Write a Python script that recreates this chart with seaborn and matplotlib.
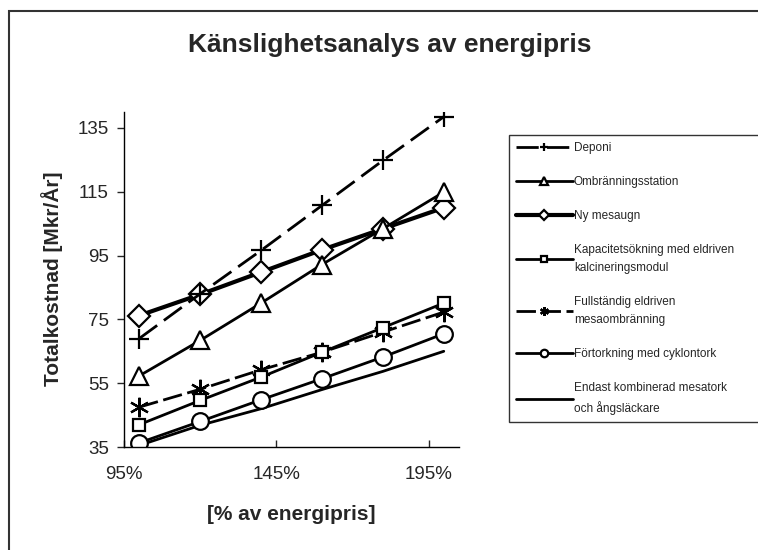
import numpy as np
import pandas as pd
import seaborn as sns
import matplotlib.pyplot as plt
from matplotlib.patches import Rectangle

# Data
energy_pct = [100, 120, 140, 160, 180, 200]
deponi = [69, 83, 96.6, 110.7, 124.8, 138.5]
ombranning = [57.3, 68.4, 80.1, 92.2, 103.4, 114.9]
ny_mesaugn = [76.2, 82.8, 89.8, 96.8, 103.4, 110]
kapacitet = [42, 49.6, 56.9, 64.7, 72.4, 80.1]
fullstandig = [47.5, 53.1, 59.2, 64.7, 71, 77.3]
fortorkning = [36.3, 43, 49.8, 56.4, 63.2, 70.5]
endast = [35.5, 41.8, 47, 53, 58.7, 65]

labels = ["Deponi", "Ombränningsstation", "Ny mesaugn",
          "Kapacitetsökning med eldriven\nkalcineringsmodul",
          "Fullständig eldriven\nmesaombränning",
          "Förtorkning med cyklontork",
          "Endast kombinerad mesatork\noch ångsläckare"]
xticks = [95, 145, 195]
yticks = [35, 55, 75, 95, 115, 135]

sns.set_style("white")
plt.rcParams['font.family'] = ['Liberation Sans', 'DejaVu Sans']

fig = plt.figure(figsize=(7.58, 5.5), dpi=100)
ax = fig.add_axes([124/758, (550-447)/550, (459-124)/758, (447-112)/550])

series = [endast, fortorkning, fullstandig, kapacitet, ny_mesaugn, ombranning, deponi]
names = [labels[6], labels[5], labels[4], labels[3], labels[2], labels[1], labels[0]]
styles = [
    dict(marker=None, lw=2),
    dict(marker="o", ms=12, lw=2),
    dict(marker=(6, 2, 0), ms=14, lw=2, dashes=(7, 2)),
    dict(marker="s", ms=9, lw=2),
    dict(marker="D", ms=11, lw=3),
    dict(marker="^", ms=13, lw=2),
    dict(marker="+", ms=14, lw=2, dashes=(8, 3)),
]

for vals, name, st in zip(series, names, styles):
    df = pd.DataFrame({"x": energy_pct, "y": vals})
    kw = dict(color="black", linewidth=st["lw"])
    if st["marker"] is not None:
        kw.update(marker=st["marker"], markersize=st["ms"], markerfacecolor="white",
                  markeredgecolor="black", markeredgewidth=1.6)
    if "dashes" in st:
        kw["dashes"] = st["dashes"]
    sns.lineplot(data=df, x="x", y="y", ax=ax, label=name, **kw)

ax.set_xlim(95, 205)
ax.set_ylim(35, 140)
ax.set_xticks(xticks)
ax.set_xticklabels([f"{t}%" for t in xticks])
ax.set_yticks(yticks)
ax.tick_params(axis="y", direction="out", length=5, width=1, labelsize=13.5, pad=6, left=True)
ax.tick_params(axis="x", direction="in", length=5, width=1, labelsize=13.5, pad=14, bottom=True)
for s in ["top", "right"]:
    ax.spines[s].set_visible(False)
for s in ["left", "bottom"]:
    ax.spines[s].set_color("black")
    ax.spines[s].set_linewidth(1)
ax.set_xlabel("")
ax.set_ylabel("")

fig.text(52/758, 1 - 279/550, "Totalkostnad [Mkr/År]", rotation=90,
         ha="center", va="center", fontsize=15, fontweight="bold")
fig.text(291/758, 1 - 515/550, "[% av energipris]", ha="center", va="center",
         fontsize=15, fontweight="bold")
fig.text(390/758, 1 - 45/550, "Känslighetsanalys av energipris", ha="center", va="center",
         fontsize=19, fontweight="bold")

h, l = ax.get_legend_handles_labels()
order = [l.index(n) for n in labels]
leg = ax.legend([h[i] for i in order], [l[i] for i in order],
                loc="upper left", bbox_to_anchor=(509/758, 1 - 423/550, 252/758, 288/550),
                bbox_transform=fig.transFigure, mode="expand", fontsize=8.5, frameon=True,
                fancybox=False, edgecolor="black", handlelength=4.8, handletextpad=0.1,
                labelspacing=1.85, markerscale=0.45, borderpad=0.6, borderaxespad=0)
leg.get_frame().set_linewidth(1)
for t in leg.get_texts():
    t.set_linespacing(1.7)

fig.add_artist(Rectangle((9/758, -0.1), 2, 1 - 11/550 + 0.1, fill=False,
                         lw=1.5, edgecolor="#333333", transform=fig.transFigure))

fig.savefig("out.png", dpi=100)
